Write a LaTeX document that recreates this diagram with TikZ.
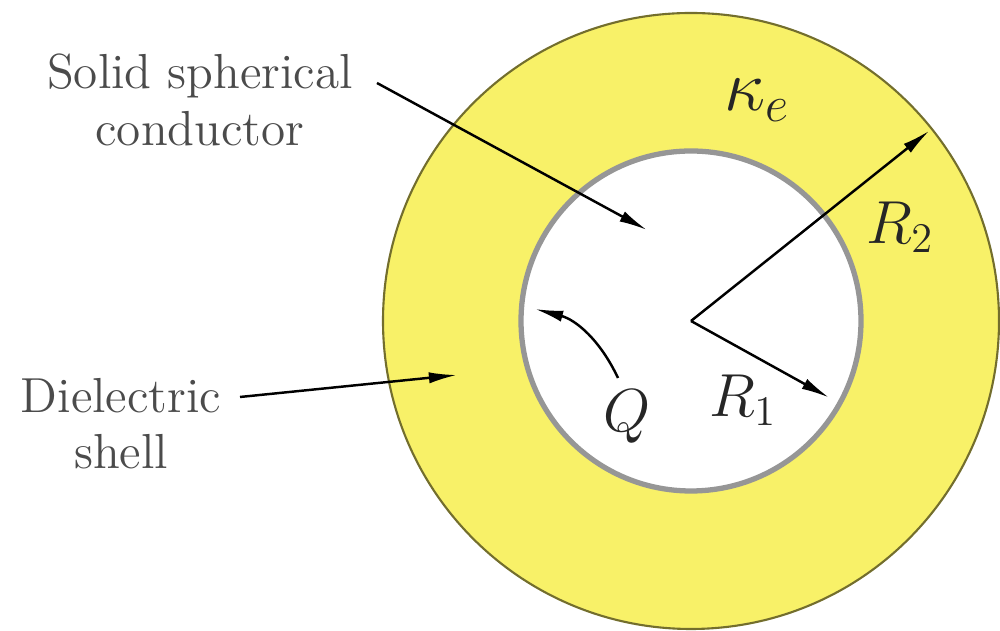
\documentclass[tikz,border=0pt]{standalone}
\usetikzlibrary{arrows.meta}
\definecolor{shellyellow}{RGB}{248,241,104}
\definecolor{shelledge}{RGB}{115,110,45}
\definecolor{coregray}{RGB}{150,150,150}
\definecolor{labelgray}{RGB}{75,75,75}

\begin{document}
\begin{tikzpicture}[x=0.01cm, y=0.01cm,
    every node/.style={font=\fontsize{14}{16}\selectfont, text=labelgray},
    mathlabel/.style={font=\fontsize{17}{18}\selectfont, text=black!85},
    >={Latex[length=8pt,width=3.2pt]}]
      \useasboundingbox (0,0) rectangle (1000,631);
      % spheres
      \coordinate (C) at (691,310);
      \filldraw[fill=shellyellow, draw=shelledge, line width=0.6pt] (C) circle[radius=308];
      \filldraw[fill=white, draw=coregray, line width=1.5pt] (C) circle[radius=170];
      % arrow ends
      \coordinate (R2tip) at ([shift={(38.6:305)}]C);
      \coordinate (R1tip) at ([shift={(-29:158)}]C);
      \coordinate (solidfrom) at (377,548);
      \coordinate (solidtip) at (647,401);
      \coordinate (dielfrom) at (240,234);
      \coordinate (dieltip) at (457,256);
      \coordinate (Qfrom) at (618,253);
      \coordinate (Qtip) at (535,322);
      % labels
      \node[align=center] (solid) at (200,531) {Solid spherical\\conductor};
      \node[align=center] (diel) at (121,207) {Dielectric\\shell};
      \node[mathlabel, font=\fontsize{22}{24}\selectfont] (kappa) at (757,531) {$\kappa_e$};
      \node[mathlabel] (R2) at (900,404) {$R_2$};
      \node[mathlabel] (R1) at (743,231) {$R_1$};
      \node[mathlabel] (Q) at (627,214) {$Q$};
      % radii
      \draw[->, line width=0.7pt] (C) -- (R2tip);
      \draw[->, line width=0.7pt] (C) -- (R1tip);
      % pointers
      \draw[->, line width=0.7pt] (solidfrom) -- (solidtip);
      \draw[->, line width=0.7pt] (dielfrom) -- (dieltip);
      \draw[->, line width=0.7pt] (Qfrom) to[bend right=25] (Qtip);
    \end{tikzpicture}
\end{document}
